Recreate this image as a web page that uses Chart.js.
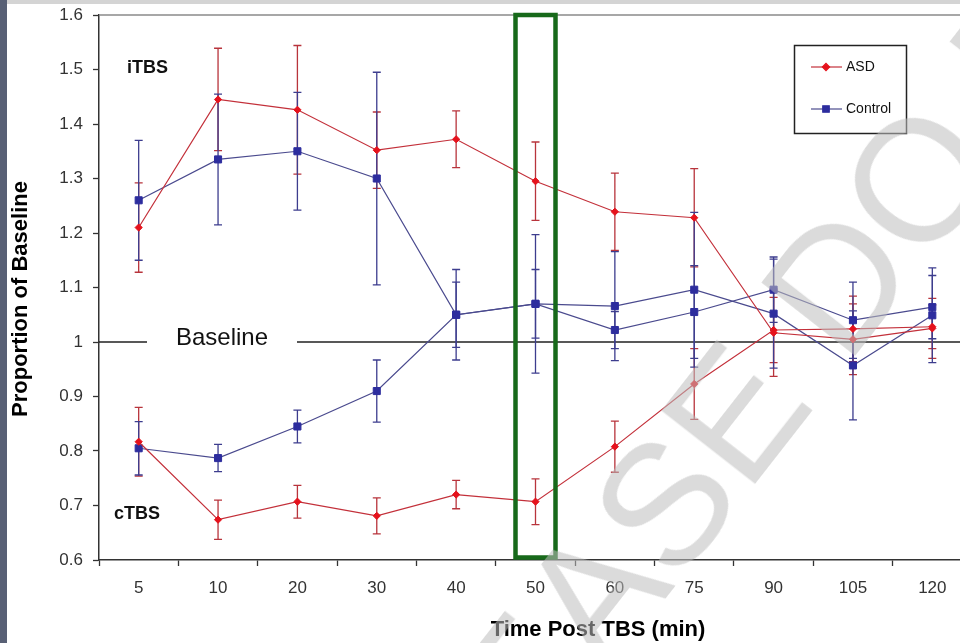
<!DOCTYPE html>
<html>
<head>
<meta charset="utf-8">
<script src="https://cdn.jsdelivr.net/npm/chart.js@4.4.0/dist/chart.umd.min.js"></script>
<style>
html, body { margin: 0; padding: 0; background: #fff; overflow: hidden; }
#wrap { position: relative; width: 960px; height: 643px; overflow: hidden; background: #fff; }
#box { position: absolute; left: 0; top: 0; width: 980px; height: 643px; }
#side { position: absolute; left: 0; top: 0; width: 7px; height: 643px; background: #586075; }
#topbar { position: absolute; left: 7px; top: 0; width: 953px; height: 4px; background: #d4d4d4; }
#mark {
  position: absolute; left: 290px; top: 842px;
  transform-origin: 0 0; transform: rotate(-52deg);
  font: 172px "Liberation Sans", Arial, sans-serif; line-height: 1;
  white-space: nowrap; color: rgba(190,190,190,0.55); pointer-events: none;
}
</style>
</head>
<body>
<div id="wrap">
  <div id="box"><canvas id="chart"></canvas></div>
  <div id="side"></div>
  <div id="topbar"></div>
  <div id="mark">PLEASE DO NOT COPY</div>
</div>
<script>
const FONT = '"Liberation Sans", Arial, sans-serif';

// time points (min) and y tick labels
const times = ['5', '10', '20', '30', '40', '50', '60', '75', '90', '105', '120'];
const yTicks = ['0.6', '0.7', '0.8', '0.9', '1', '1.1', '1.2', '1.3', '1.4', '1.5', '1.6'];
const seriesNames = ['ASD', 'Control'];

// ASD (red)
const asdITBS    = [1.21, 1.445, 1.426, 1.352, 1.372, 1.295, 1.239, 1.228, 1.017, 1.005, 1.025];
const asdITBSErr = [0.082, 0.094, 0.118, 0.07, 0.052, 0.072, 0.071, 0.09, 0.08, 0.065, 0.055];
const asdCTBS    = [0.817, 0.674, 0.707, 0.681, 0.72, 0.707, 0.808, 0.923, 1.022, 1.024, 1.028];
const asdCTBSErr = [0.063, 0.036, 0.03, 0.033, 0.026, 0.042, 0.047, 0.065, 0.06, 0.06, 0.04];

// Control (blue)
const ctlITBS    = [1.26, 1.335, 1.35, 1.30, 1.05, 1.07, 1.022, 1.055, 1.096, 1.04, 1.064];
const ctlITBSErr = [0.11, 0.12, 0.108, 0.195, 0.06, 0.063, 0.034, 0.085, 0.06, 0.07, 0.058];
const ctlCTBS    = [0.805, 0.787, 0.845, 0.91, 1.05, 1.07, 1.066, 1.096, 1.052, 0.957, 1.049];
const ctlCTBSErr = [0.049, 0.025, 0.03, 0.057, 0.083, 0.127, 0.1, 0.142, 0.1, 0.1, 0.087];

const RED_LINE = '#c3303a', RED_PT = '#e5121c', RED_ERR = '#b8343c';
const BLUE_LINE = '#4a4a8e', BLUE_PT = '#2d2d9e', BLUE_ERR = '#3d3d8e';

const errs = [asdITBSErr, asdCTBSErr, ctlITBSErr, ctlCTBSErr];
const errColors = [RED_ERR, RED_ERR, BLUE_ERR, BLUE_ERR];

function redSet(data) {
  return {
    data, borderColor: RED_LINE, borderWidth: 1.2,
    pointStyle: 'rectRot', pointRadius: 3.6,
    pointBackgroundColor: RED_PT, pointBorderColor: RED_PT, pointBorderWidth: 1
  };
}
function blueSet(data) {
  return {
    data, borderColor: BLUE_LINE, borderWidth: 1.2,
    pointStyle: 'rect', pointRadius: 5,
    pointBackgroundColor: BLUE_PT, pointBorderColor: BLUE_PT, pointBorderWidth: 1
  };
}

const extras = {
  id: 'extras',
  beforeDatasetsDraw(chart) {
    const {ctx, chartArea: a, scales: {x, y}} = chart;
    ctx.save();
    // top frame
    ctx.strokeStyle = '#8a8a8a';
    ctx.lineWidth = 1.5;
    ctx.beginPath();
    ctx.moveTo(a.left, a.top);
    ctx.lineTo(chart.width, a.top);
    ctx.stroke();

    // baseline with gap for its label
    const yb = y.getPixelForValue(1);
    ctx.strokeStyle = '#222';
    ctx.lineWidth = 1.3;
    ctx.beginPath();
    ctx.moveTo(a.left, yb); ctx.lineTo(a.left + 48, yb);
    ctx.moveTo(a.left + 198, yb); ctx.lineTo(chart.width, yb);
    ctx.stroke();
    ctx.fillStyle = '#111';
    ctx.font = '24px ' + FONT;
    ctx.textAlign = 'center';
    ctx.textBaseline = 'middle';
    ctx.fillText('Baseline', a.left + 123, yb - 4);

    // error bars
    ctx.lineWidth = 1.3;
    errs.forEach((e, i) => {
      const meta = chart.getDatasetMeta(i);
      const vals = chart.data.datasets[i].data;
      ctx.strokeStyle = errColors[i];
      ctx.beginPath();
      meta.data.forEach((pt, j) => {
        const top = y.getPixelForValue(vals[j] + e[j]);
        const bot = y.getPixelForValue(vals[j] - e[j]);
        ctx.moveTo(pt.x, top); ctx.lineTo(pt.x, bot);
        ctx.moveTo(pt.x - 4, top); ctx.lineTo(pt.x + 4, top);
        ctx.moveTo(pt.x - 4, bot); ctx.lineTo(pt.x + 4, bot);
      });
      ctx.stroke();
    });
    ctx.restore();
  },
  afterDatasetsDraw(chart) {
    const {ctx, chartArea: a, scales: {x, y}} = chart;
    ctx.save();

    // green highlight round the 50 min point
    const gx = x.getPixelForValue(times.indexOf('50'));
    ctx.strokeStyle = '#17691a';
    ctx.lineWidth = 4.5;
    ctx.strokeRect(gx - 20, a.top, 40, a.bottom - a.top - 2.5);

    // protocol labels
    ctx.fillStyle = '#111';
    ctx.font = 'bold 18px ' + FONT;
    ctx.textAlign = 'left';
    ctx.textBaseline = 'middle';
    ctx.fillText('iTBS', a.left + 28, y.getPixelForValue(1.5) - 1);
    ctx.fillText('cTBS', a.left + 15, y.getPixelForValue(0.685));

    // legend
    const lx = 794, ly = 45;
    ctx.strokeStyle = '#222';
    ctx.lineWidth = 1.5;
    ctx.strokeRect(lx + 0.5, ly + 0.5, 112, 88);
    const rows = [
      {name: seriesNames[0], line: RED_LINE, pt: RED_PT, style: 'rectRot', r: 3.6, y: ly + 22},
      {name: seriesNames[1], line: BLUE_LINE, pt: BLUE_PT, style: 'rect', r: 4.6, y: ly + 64}
    ];
    rows.forEach(r => {
      ctx.strokeStyle = r.line;
      ctx.lineWidth = 1.2;
      ctx.beginPath();
      ctx.moveTo(lx + 17, r.y); ctx.lineTo(lx + 48, r.y);
      ctx.stroke();
      ctx.fillStyle = r.pt;
      ctx.strokeStyle = r.pt;
      Chart.helpers.drawPoint(ctx, {pointStyle: r.style, radius: r.r, borderWidth: 1}, lx + 32, r.y);
      ctx.fillStyle = '#111';
      ctx.font = '14px ' + FONT;
      ctx.textAlign = 'left';
      ctx.fillText(r.name, lx + 52, r.y);
    });

    // axis titles
    ctx.fillStyle = '#000';
    ctx.font = 'bold 22px ' + FONT;
    ctx.textAlign = 'center';
    ctx.textBaseline = 'middle';
    ctx.fillText('Time Post TBS (min)', 598, 630);
    ctx.translate(21, 299);
    ctx.rotate(-Math.PI / 2);
    ctx.fillText('Proportion of Baseline', 0, 0);
    ctx.restore();
  }
};

new Chart(document.getElementById('chart'), {
  type: 'line',
  data: {
    labels: times,
    datasets: [redSet(asdITBS), redSet(asdCTBS), blueSet(ctlITBS), blueSet(ctlCTBS)]
  },
  options: {
    responsive: true,
    maintainAspectRatio: false,
    animation: false,
    layout: {padding: {left: 0, top: 15, right: 8, bottom: 0}},
    plugins: {legend: {display: false}, tooltip: {enabled: false}},
    scales: {
      x: {
        type: 'category',
        offset: true,
        grid: {drawOnChartArea: false, offset: true, tickLength: 6, tickColor: '#333', tickWidth: 1.3},
        border: {color: '#333', width: 1.5},
        ticks: {font: {family: FONT, size: 17}, color: '#333', padding: 12, maxRotation: 0, autoSkip: false},
        afterFit(s) { s.height = 83; }
      },
      y: {
        min: 0.6,
        max: 1.6,
        grid: {drawOnChartArea: false, tickLength: 6, tickColor: '#333', tickWidth: 1.3},
        border: {color: '#333', width: 1.5},
        ticks: {
          stepSize: 0.1,
          font: {family: FONT, size: 17},
          color: '#333',
          padding: 10,
          callback: (v, i) => yTicks[i]
        },
        afterFit(s) { s.width = 99; s.paddingTop = 0; s.paddingBottom = 0; }
      }
    }
  },
  plugins: [extras]
});
</script>
</body>
</html>
